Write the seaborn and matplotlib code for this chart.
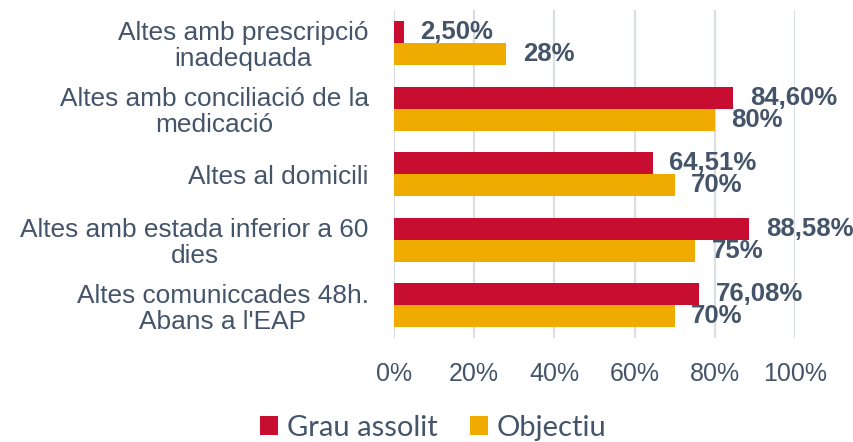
import numpy as np
import pandas as pd
import seaborn as sns
from matplotlib import pyplot as plt

categories = ["Altes amb prescripció\ninadequada",
              "Altes amb conciliació de la\nmedicació",
              "Altes al domicili",
              "Altes amb estada inferior a 60\ndies",
              "Altes comuniccades 48h.\nAbans a l'EAP"]
grau_assolit = [2.50, 84.60, 64.51, 88.58, 76.08]
objectiu = [28, 80, 70, 75, 70]
series = ["Grau assolit", "Objectiu"]
xticks = [0, 20, 40, 60, 80, 100]

df = pd.DataFrame({
    'cat': categories * 2,
    'serie': [series[0]] * 5 + [series[1]] * 5,
    'val': grau_assolit + objectiu,
})

sns.set_style('white')
plt.rcParams['font.family'] = ['Liberation Sans', 'DejaVu Sans']
txt = '#44546A'

fig = plt.figure(figsize=(8.54, 4.42), dpi=100)
ax = fig.add_axes([0.461, 0.235, 0.47, 0.742])

sns.barplot(data=df, y='cat', x='val', hue='serie', orient='h',
            palette=['#C70D30', '#F0AB00'], saturation=1, width=0.67, linewidth=0,
            order=categories, hue_order=series, ax=ax, legend=True)

ax.set_xlim(0, 100)
ax.set_ylim(4.5, -0.5)
ax.set_xticks(xticks)
ax.set_xticklabels([f'{t}%' for t in xticks])
ax.xaxis.grid(True, color='#D9DEE5', linewidth=1.5)
ax.set_axisbelow(True)
for s in ax.spines.values():
    s.set_visible(False)
ax.set_xlabel('')
ax.set_ylabel('')
ax.tick_params(axis='x', length=0, pad=17, labelsize=18, labelcolor=txt)
ax.tick_params(axis='y', length=0, pad=18, labelsize=18.9, labelcolor=txt)
for t in ax.get_yticklabels():
    t.set_multialignment('center')
    t.set_linespacing(1.1)

labels_red = [f'{v:.2f}'.replace('.', ',') + '%' for v in grau_assolit]
labels_org = [f'{v:.0f}%' for v in objectiu]
ax.bar_label(ax.containers[0], labels=labels_red, padding=12,
             fontsize=18.5, fontweight='bold', color=txt)
ax.bar_label(ax.containers[1], labels=labels_org, padding=12,
             fontsize=18.5, fontweight='bold', color=txt)

handles, labs = ax.get_legend_handles_labels()
ax.legend_.remove()
fig.legend(handles, labs, loc='center', bbox_to_anchor=(0.507, 0.032), ncol=2,
           frameon=False, prop={'family': 'Lato', 'size': 21},
           labelcolor=txt, handlelength=0.62, handleheight=0.62,
           handletextpad=0.3, columnspacing=1.1)

fig.savefig('out.png', dpi=100)
